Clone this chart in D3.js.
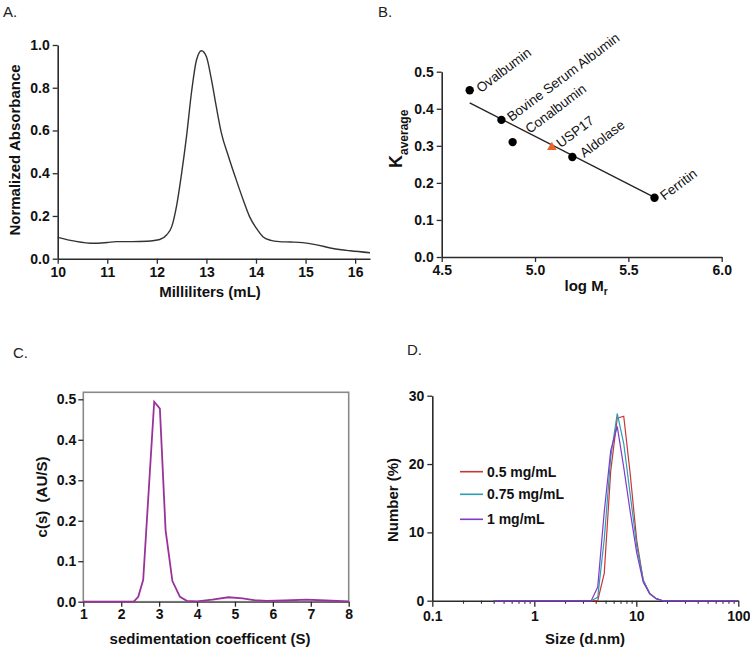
<!DOCTYPE html>
<html><head><meta charset="utf-8">
<script src="https://cdn.jsdelivr.net/npm/d3@7"></script>
<style>
body{margin:0;background:#fff;}
svg{display:block;font-family:Arial,"Liberation Sans",sans-serif;}
.tick text{font-weight:bold;font-size:14px;fill:#111;}
</style></head>
<body>
<svg id="c" width="750" height="651"></svg>
<script>
// ---------- Panel A: SEC trace ----------
const secVolume = [10, 10.35, 10.72, 11.0, 11.19, 11.5, 11.8, 12.06, 12.2, 12.3, 12.4, 12.5, 12.6, 12.7, 12.8, 12.9, 13.0, 13.1, 13.2, 13.3, 13.45, 13.6, 13.75, 13.87, 14.0, 14.14, 14.3, 14.47, 14.7, 14.94, 15.2, 15.55, 15.9, 16.3];
const secAbs    = [0.100, 0.082, 0.072, 0.076, 0.080, 0.080, 0.082, 0.090, 0.112, 0.150, 0.250, 0.400, 0.575, 0.780, 0.930, 0.973, 0.945, 0.840, 0.710, 0.590, 0.475, 0.370, 0.270, 0.197, 0.145, 0.103, 0.086, 0.080, 0.078, 0.075, 0.066, 0.048, 0.037, 0.028];
const secXTicks = [10, 11, 12, 13, 14, 15, 16];
const secYTicks = [0.0, 0.2, 0.4, 0.6, 0.8, 1.0];

// ---------- Panel B: calibration ----------
const stdNames = ["Ovalbumin", "Bovine Serum Albumin", "Conalbumin", "Aldolase", "Ferritin"];
const stdLogMr = [4.65, 4.82, 4.88, 5.20, 5.64];
const stdKav   = [0.450, 0.370, 0.310, 0.270, 0.160];
const sampleName = "USP17";
const sampleLogMr = 5.09;
const sampleKav = 0.296;
const fitLogMr = [4.65, 5.65];
const fitKav = [0.416, 0.158];
const calXTicks = [4.5, 5.0, 5.5, 6.0];
const calYTicks = [0.0, 0.1, 0.2, 0.3, 0.4, 0.5];

// ---------- Panel C: c(s) distribution ----------
const sedS  = [1.0, 2.0, 2.33, 2.45, 2.58, 2.87, 3.02, 3.17, 3.35, 3.55, 3.73, 4.0, 4.4, 4.83, 5.2, 5.5, 5.84, 6.3, 6.9, 7.4, 8.0];
const sedCs = [0.0, 0.0, 0.0, 0.012, 0.054, 0.494, 0.477, 0.177, 0.051, 0.012, 0.002, 0.001, 0.005, 0.011, 0.008, 0.004, 0.002, 0.003, 0.005, 0.003, 0.001];
const sedXTicks = [1, 2, 3, 4, 5, 6, 7, 8];
const sedYTicks = [0.0, 0.1, 0.2, 0.3, 0.4, 0.5];

// ---------- Panel D: DLS number distribution ----------
const dlsSize = [0.4, 0.4632, 0.5365, 0.6213, 0.7195, 0.8332, 0.9649, 1.117, 1.294, 1.499, 1.736, 2.01, 2.328, 2.696, 3.122, 3.615, 4.187, 4.849, 5.615, 6.503, 7.531, 8.721, 10.1, 11.7, 13.54, 15.69, 18.17, 21.04, 24.36, 28.21, 32.67, 37.84, 43.82, 50.75, 58.77, 68.06, 78.82, 91.28, 100];
const dlsSeriesNames = ["0.5 mg/mL", "0.75 mg/mL", "1 mg/mL"];
const dls05  = [0,0,0,0,0,0,0,0,0,0,0,0,0,0,0,0, 0.0, 4.0, 19.0, 26.7, 27.0, 18.5, 8.8, 3.0, 1.1, 0.3, 0, 0,0,0,0,0,0,0,0,0,0,0,0];
const dls075 = [0,0,0,0,0,0,0,0,0,0,0,0,0,0,0,0, 0.5, 9.0, 21.0, 27.4, 23.0, 15.5, 8.0, 3.0, 1.0, 0.3, 0, 0,0,0,0,0,0,0,0,0,0,0,0];
const dls1   = [0,0,0,0,0,0,0,0,0,0,0,0,0,0,0,0, 2.0, 13.0, 22.0, 25.5, 19.5, 13.0, 7.0, 2.7, 1.0, 0.3, 0, 0,0,0,0,0,0,0,0,0,0,0,0];
const dlsXTicks = [0.1, 1, 10, 100];
const dlsYTicks = [0, 10, 20, 30];
const dlsColors = ["#c8363a", "#2a9db2", "#7f3bc9"];

const svg = d3.select("#c");
const AX = "#2b2b2b";
function styleAxis(g, w){
  g.selectAll(".domain").attr("stroke", AX).attr("stroke-width", w||1.6);
  g.selectAll(".tick line").attr("stroke", AX).attr("stroke-width", 1.3);
}
function panelLabel(t, x, y){
  svg.append("text").attr("x", x).attr("y", y).attr("font-size", 15).attr("fill", "#222").text(t);
}

// ===== Panel A =====
{
  const x = d3.scaleLinear().domain([10, 16.3]).range([57.7, 370]);
  const y = d3.scaleLinear().domain([0, 1.0]).range([258.7, 45]);
  panelLabel("A.", 3, 17);
  const gx = svg.append("g").attr("transform", "translate(0,258.7)")
    .call(d3.axisBottom(x).tickValues(secXTicks).tickSize(5).tickPadding(3).tickSizeOuter(0).tickFormat(d3.format("d")));
  styleAxis(gx);
  const gy = svg.append("g").attr("transform", "translate(57.7,0)")
    .call(d3.axisLeft(y).tickValues(secYTicks).tickSize(5).tickPadding(3).tickSizeOuter(0).tickFormat(d3.format(".1f")));
  styleAxis(gy);
  svg.append("path").datum(secVolume.map((v,i)=>[v, secAbs[i]]))
    .attr("fill","none").attr("stroke","#333").attr("stroke-width",1.4)
    .attr("d", d3.line().x(d=>x(d[0])).y(d=>y(d[1])).curve(d3.curveMonotoneX));
  svg.append("text").attr("x", 210).attr("y", 297).attr("text-anchor","middle")
    .attr("font-size",15).attr("font-weight","bold").attr("fill","#111").text("Milliliters (mL)");
  svg.append("text").attr("transform","translate(20,150) rotate(-90)").attr("text-anchor","middle")
    .attr("font-size",15).attr("font-weight","bold").attr("fill","#111").text("Normalized Absorbance");
}

// ===== Panel B =====
{
  const x = d3.scaleLinear().domain([4.5, 6.0]).range([441.7, 721.7]);
  const y = d3.scaleLinear().domain([0, 0.5]).range([257, 71.7]);
  panelLabel("B.", 378, 17);
  const gx = svg.append("g").attr("transform", "translate(0,257)")
    .call(d3.axisBottom(x).tickValues(calXTicks).tickSize(5).tickPadding(3).tickSizeOuter(0).tickFormat(d3.format(".1f")));
  styleAxis(gx);
  const gy = svg.append("g").attr("transform", "translate(441.7,0)")
    .call(d3.axisLeft(y).tickValues(calYTicks).tickSize(5).tickPadding(3).tickSizeOuter(0).tickFormat(d3.format(".1f")));
  styleAxis(gy);
  svg.append("line").attr("x1", x(fitLogMr[0])).attr("y1", y(fitKav[0]))
    .attr("x2", x(fitLogMr[1])).attr("y2", y(fitKav[1])).attr("stroke","#222").attr("stroke-width",1.3);
  const labelOff = [[11,3],[10,2],[17,-8],[12,1],[10,3]];
  stdNames.forEach((n,i)=>{
    const px = x(stdLogMr[i]), py = y(stdKav[i]);
    svg.append("circle").attr("cx",px).attr("cy",py).attr("r",4.2).attr("fill","#000");
    svg.append("text").attr("transform",`translate(${px+labelOff[i][0]},${py+labelOff[i][1]}) rotate(-37)`)
      .attr("font-size",13.5).attr("fill","#111").text(n);
  });
  const sx = x(sampleLogMr), sy = y(sampleKav);
  svg.append("path").attr("d", d3.symbol(d3.symbolTriangle, 40)()).attr("transform",`translate(${sx},${sy})`).attr("fill","#e8642a");
  svg.append("text").attr("transform",`translate(${sx+9},${sy+1}) rotate(-37)`)
    .attr("font-size",13.5).attr("fill","#111").text(sampleName);
  const xl = svg.append("text").attr("x", 586).attr("y", 291).attr("text-anchor","middle")
    .attr("font-size",15).attr("font-weight","bold").attr("fill","#111");
  xl.append("tspan").text("log M");
  xl.append("tspan").attr("font-size",10).attr("dy",4).text("r");
  const yl = svg.append("text").attr("transform","translate(402,168) rotate(-90)").attr("text-anchor","start")
    .attr("font-size",18).attr("font-weight","bold").attr("fill","#111");
  yl.append("tspan").text("K");
  yl.append("tspan").attr("font-size",12).attr("dy",6).text("average");
}

// ===== Panel C =====
{
  const x = d3.scaleLinear().domain([1, 8]).range([83.3, 348.7]);
  const y = d3.scaleLinear().domain([0, 0.5]).range([601.7, 399.3]);
  panelLabel("C.", 13, 358);
  svg.append("rect").attr("x",83.3).attr("y",392.3).attr("width",348.7-83.3).attr("height",601.7-392.3)
    .attr("fill","none").attr("stroke","#8a8a8a").attr("stroke-width",1.6);
  const gx = svg.append("g").attr("transform", "translate(0,601.7)")
    .call(d3.axisBottom(x).tickValues(sedXTicks).tickSize(5).tickPadding(2).tickSizeOuter(0).tickFormat(d3.format("d")));
  styleAxis(gx);
  gx.selectAll(".domain").attr("stroke","#666");
  const gy = svg.append("g").attr("transform", "translate(83.3,0)")
    .call(d3.axisLeft(y).tickValues(sedYTicks).tickSize(5).tickPadding(2).tickSizeOuter(0).tickFormat(d3.format(".1f")));
  styleAxis(gy);
  gy.selectAll(".domain").remove();
  svg.append("path").datum(sedS.map((v,i)=>[v, sedCs[i]]))
    .attr("fill","none").attr("stroke","#9a329c").attr("stroke-width",1.8)
    .attr("d", d3.line().x(d=>x(d[0])).y(d=>y(d[1])));
  svg.append("text").attr("x", 210).attr("y", 644).attr("text-anchor","middle")
    .attr("font-size",15).attr("font-weight","bold").attr("fill","#111").text("sedimentation coefficent (S)");
  svg.append("text").attr("transform","translate(47,497) rotate(-90)").attr("text-anchor","middle")
    .attr("font-size",15).attr("font-weight","bold").attr("fill","#111").attr("xml:space","preserve").style("white-space","pre").text("c(s)  (AU/S)");
}

// ===== Panel D =====
{
  const x = d3.scaleLog().domain([0.1, 100]).range([432.3, 738.3]);
  const y = d3.scaleLinear().domain([0, 30]).range([600.7, 395.7]);
  panelLabel("D.", 407, 355);
  const minor = [];
  [0.1, 1, 10].forEach(d=>{ for(let k=2;k<=9;k++) minor.push(d*k); });
  svg.append("g").attr("transform","translate(0,600.7)")
    .call(d3.axisBottom(x).tickValues(minor).tickSize(3).tickFormat(""))
    .call(g=>{g.select(".domain").remove(); g.selectAll(".tick line").attr("stroke",AX).attr("stroke-width",1.1);});
  const gx = svg.append("g").attr("transform", "translate(0,600.7)")
    .call(d3.axisBottom(x).tickValues(dlsXTicks).tickSize(6).tickPadding(4).tickSizeOuter(0).tickFormat(d=>String(d)));
  styleAxis(gx);
  const gy = svg.append("g").attr("transform", "translate(432.3,0)")
    .call(d3.axisLeft(y).tickValues(dlsYTicks).tickSize(5).tickPadding(3).tickSizeOuter(0).tickFormat(d3.format("d")));
  styleAxis(gy);
  const series = [dls05, dls075, dls1];
  series.forEach((s,j)=>{
    svg.append("path").datum(dlsSize.map((v,i)=>[v, s[i]]))
      .attr("fill","none").attr("stroke",dlsColors[j]).attr("stroke-width",1.2)
      .attr("d", d3.line().x(d=>x(d[0])).y(d=>y(d[1])));
  });
  const legY = [471.7, 494.3, 519.3];
  dlsSeriesNames.forEach((n,j)=>{
    svg.append("line").attr("x1",460).attr("x2",483).attr("y1",legY[j]).attr("y2",legY[j])
      .attr("stroke",dlsColors[j]).attr("stroke-width",1.6);
    svg.append("text").attr("x",487).attr("y",legY[j]+5).attr("font-size",14).attr("font-weight","bold")
      .attr("fill","#111").text(n);
  });
  svg.append("text").attr("x", 585).attr("y", 644).attr("text-anchor","middle")
    .attr("font-size",15).attr("font-weight","bold").attr("fill","#111").text("Size (d.nm)");
  svg.append("text").attr("transform","translate(398,500) rotate(-90)").attr("text-anchor","middle")
    .attr("font-size",15).attr("font-weight","bold").attr("fill","#111").text("Number (%)");
}
</script>
</body></html>
